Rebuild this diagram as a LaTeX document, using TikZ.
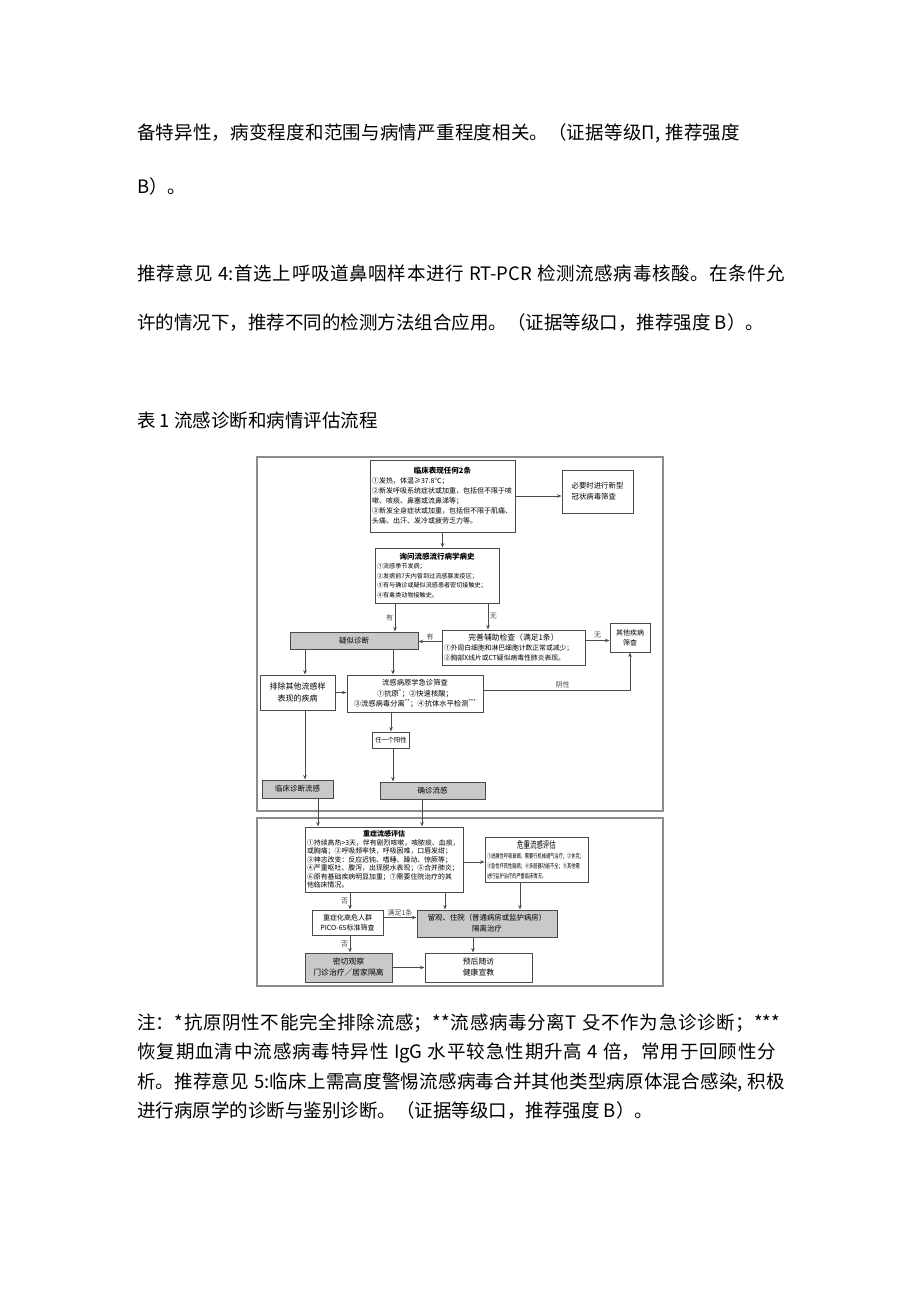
\documentclass[tikz,border=0pt]{standalone}
\usepackage{fontspec}
\setmainfont{Noto Sans CJK SC}
\newfontfamily\narrowfont[FakeStretch=0.68]{Noto Sans CJK SC}
\usepackage{xcolor}
\usetikzlibrary{arrows.meta,positioning,calc}
\XeTeXlinebreaklocale "zh"
\XeTeXlinebreakskip=0pt plus 3pt minus 1pt
\newcommand{\jline}[2]{\vbox{\hsize=#1pt\parindent=0pt\parfillskip=0pt\tolerance=10000\spaceskip=0.28em plus 0.5pt minus 0.5pt\relax #2}}
\newcommand{\boxhead}[1]{\leavevmode\hbox to\hsize{\hss#1\hss}\\}
\definecolor{edge}{HTML}{4A4A4A}
\definecolor{frame}{HTML}{8C8C8C}
\definecolor{shade}{HTML}{C9C9C9}
\tikzset{
    para/.style={anchor=west, inner sep=0pt, font=\fontsize{18.5}{18.5}\selectfont},
    box/.style={rectangle, draw=edge, line width=1pt, fill=white, inner sep=2pt, align=center, font=\fontsize{7.5}{10}\selectfont},
    gbox/.style={box, fill=shade},
    panel/.style={draw=frame, line width=1.5pt},
    flow/.style={-{Stealth[length=4.5pt,width=3.5pt]}, draw=edge, line width=0.9pt},
    lbl/.style={font=\fontsize{7}{7}\selectfont, inner sep=1.5pt, text=edge},
    wh/.style 2 args={minimum width=#1pt, minimum height=#2pt},
}
\begin{document}
\begin{tikzpicture}[x=1pt, y=-1pt]
    \useasboundingbox (0,0) rectangle (920,1301);
    \fill[white] (0,0) rectangle (920,1301);

    \node[para] (p1) at (137,133) {\jline{603}{备特异性，病变程度和范围与病情严重程度相关。（证据等级Π, 推荐强度}};
    \node[para] (p2) at (137,186) {B）。};
    \node[para] (p3) at (137,273) {\jline{648}{推荐意见 4:首选上呼吸道鼻咽样本进行 RT-PCR 检测流感病毒核酸。在条件允}};
    \node[para] (p4) at (137,323) {许的情况下，推荐不同的检测方法组合应用。（证据等级口，推荐强度 B）。};
    \node[para] (cap) at (137,420) {表 1 流感诊断和病情评估流程};

    \draw[panel] (257,457) rectangle (663,811);
    \draw[panel] (257,818) rectangle (663,986);

    \node[box, wh={145}{72}, text width=141pt, align=left, font=\fontsize{7}{10}\selectfont] (symp) at (442.5,496) {\boxhead{\fontsize{7.5}{10}\selectfont\bfseries 临床表现任何2条}①发热，体温≥37.8℃；\\②新发呼吸系统症状或加重，包括但不限于咳\\嗽、咳痰、鼻塞或流鼻涕等；\\③新发全身症状或加重，包括但不限于肌痛、\\头痛、出汗、发冷或疲劳乏力等。};
    \node[box, wh={71}{43}, align=left, font=\fontsize{7.4}{11}\selectfont] (ncov) at (597.5,491.5) {必要时进行新型\\冠状病毒筛查};
    \node[box, wh={124}{55}, text width=120pt, align=left, font=\fontsize{6.1}{9.5}\selectfont] (epi) at (437,575.5) {\boxhead{\fontsize{7.5}{9.5}\selectfont\bfseries 询问流感流行病学病史}①流感季节发病；\\②发病前7天内曾到过流感暴发疫区；\\③有与确诊或疑似流感患者密切接触史；\\④有禽类动物接触史。};
    \node[gbox, wh={128}{17}] (susp) at (354,640.5) {疑似诊断};
    \node[box, wh={143}{35}, text width=139pt, align=left, font=\fontsize{6.8}{10}\selectfont] (aux) at (513.5,647.5) {\boxhead{\fontsize{7.8}{10}\selectfont 完善辅助检查（满足1条）}①外周白细胞和淋巴细胞计数正常或减少；\\②胸部X线片或CT疑似病毒性肺炎表现。};
    \node[box, wh={40}{29}, font=\fontsize{7}{10}\selectfont] (other) at (630,637.5) {其他疾病\\筛查};
    \node[box, wh={75}{35}, font=\fontsize{8}{12}\selectfont] (excl) at (297.5,692.5) {排除其他流感样\\表现的疾病};
    \node[box, wh={136}{37}, font=\fontsize{7.3}{10.5}\selectfont] (path) at (415,693.5) {流感病原学急诊筛查\\①抗原\textsuperscript{*}；②快速核酸；\\③流感病毒分离\textsuperscript{**}；④抗体水平检测\textsuperscript{***}};
    \node[box, wh={37}{16}, font=\fontsize{6.3}{8}\selectfont] (pos) at (391,740) {任一个阳性};
    \node[gbox, wh={71}{18}] (clin) at (297.5,789) {临床诊断流感};
    \node[gbox, wh={105}{17}] (conf) at (432.5,790.5) {确诊流感};

    \node[box, wh={158}{65}, text width=154pt, align=left, font=\fontsize{6.9}{8.5}\selectfont] (sev) at (384,859.5) {\boxhead{\fontsize{7}{8.5}\selectfont\bfseries 重症流感评估}①持续高热>3天，伴有剧烈咳嗽，咳脓痰、血痰，\\或胸痛；②呼吸频率快，呼吸困难，口唇发绀；\\③神志改变：反应迟钝、嗜睡、躁动、惊厥等；\\④严重呕吐、腹泻，出现脱水表现；⑤合并肺炎；\\⑥原有基础疾病明显加重；⑦需要住院治疗的其\\他临床情况。};
    \node[box, wh={103}{45}, text width=99pt, align=left, font=\narrowfont\fontsize{6.2}{10}\selectfont] (crit) at (536.5,859.5) {\boxhead{\fontsize{9.5}{10}\selectfont 危重流感评估}①进展性呼吸衰竭，需要行机械通气治疗；②休克；\\③急性坏死性脑病；④多脏器功能不全；⑤其他需\\进行监护治疗的严重临床情况。};
    \node[box, wh={71}{25}, font=\fontsize{7}{10}\selectfont] (risk) at (347.5,922.5) {重症化高危人群\\PICO-65标准筛查};
    \node[gbox, wh={140}{27}, font=\fontsize{7.4}{11}\selectfont] (adm) at (487,923.5) {留观、住院（普通病房或监护病房）\\隔离治疗};
    \node[gbox, wh={87}{29}, font=\fontsize{7.8}{11}\selectfont] (obs) at (348.5,967.5) {密切观察\\门诊治疗／居家隔离};
    \node[box, wh={107}{29}, font=\fontsize{7.8}{11}\selectfont] (follow) at (478.5,967.5) {预后随访\\健康宣教};

    \draw[flow] (symp.east) -- (symp.east -| ncov.west);
    \draw[flow] (symp.south) -- (symp.south |- epi.north);
    \draw[flow] ([xshift=-42pt]epi.south) -- ([xshift=-42pt]epi.south |- susp.north) node[midway, left, lbl] {有};
    \draw[flow] ([xshift=51pt]epi.south) -- ([xshift=51pt]epi.south |- aux.north) node[midway, right, lbl] {无};
    \draw[flow] ([yshift=6pt]aux.west) -- ([yshift=6pt]aux.west -| susp.east) node[midway, above, lbl] {有};
    \draw[flow] ([yshift=7pt]aux.east) -- ([yshift=7pt]aux.east -| other.west) node[midway, above, lbl] {无};
    \draw[flow] ([xshift=-49pt]susp.south) -- ([xshift=-49pt]susp.south |- excl.north);
    \draw[flow] ([xshift=39pt]susp.south) -- ([xshift=39pt]susp.south |- path.north);
    \draw[flow] (excl.east) -- (excl.east -| path.west);
    \draw[flow] ([yshift=3pt]path.east) -| node[pos=0.27, above, lbl] {阴性} (other.south);
    \draw[flow] (path.south -| pos.north) -- (pos.north);
    \draw[flow] ([xshift=7.5pt]excl.south) -- ([xshift=7.5pt]excl.south |- clin.north);
    \draw[flow] ([xshift=2pt]pos.south) -- ([xshift=2pt]pos.south |- conf.north);
    \draw[flow] ([xshift=20.5pt]clin.south) -- ([xshift=20.5pt]clin.south |- sev.north);
    \draw[flow] ([xshift=-10.5pt]conf.south) -- ([xshift=-10.5pt]conf.south |- sev.north);
    \draw[flow] ([yshift=-2.5pt]sev.east) -- ([yshift=-2.5pt]sev.east -| crit.west);
    \draw[flow] ([xshift=-34pt]sev.south) -- ([xshift=-34pt]sev.south |- risk.north) node[midway, left, lbl] {否};
    \draw[flow] ([xshift=61pt]sev.south) -- ([xshift=61pt]sev.south |- adm.north);
    \draw[flow] ([xshift=-16.5pt]crit.south) -- ([xshift=-16.5pt]crit.south |- adm.north);
    \draw[flow] ([yshift=5pt]risk.east) -- ([yshift=5pt]risk.east -| adm.west) node[midway, above, lbl] {满足1条};
    \draw[flow] ([xshift=2.5pt]risk.south) -- ([xshift=2.5pt]risk.south |- obs.north) node[midway, left, lbl] {否};
    \draw[flow] (obs.east) -- (obs.east -| follow.west);
    \draw[flow] ([xshift=-14pt]adm.south) -- ([xshift=-14pt]adm.south |- follow.north);

    \node[para] (n1) at (137,1023) {\jline{643}{注：*抗原阴性不能完全排除流感；**流感病毒分离T 殳不作为急诊诊断；***}};
    \node[para] (n2) at (137,1053) {\jline{639}{恢复期血清中流感病毒特异性 IgG 水平较急性期升高 4 倍，常用于回顾性分}};
    \node[para] (n3) at (137,1082) {\jline{648}{析。推荐意见 5:临床上需高度警惕流感病毒合并其他类型病原体混合感染, 积极}};
    \node[para] (n4) at (137,1111) {进行病原学的诊断与鉴别诊断。（证据等级口，推荐强度 B）。};
\end{tikzpicture}
\end{document}
